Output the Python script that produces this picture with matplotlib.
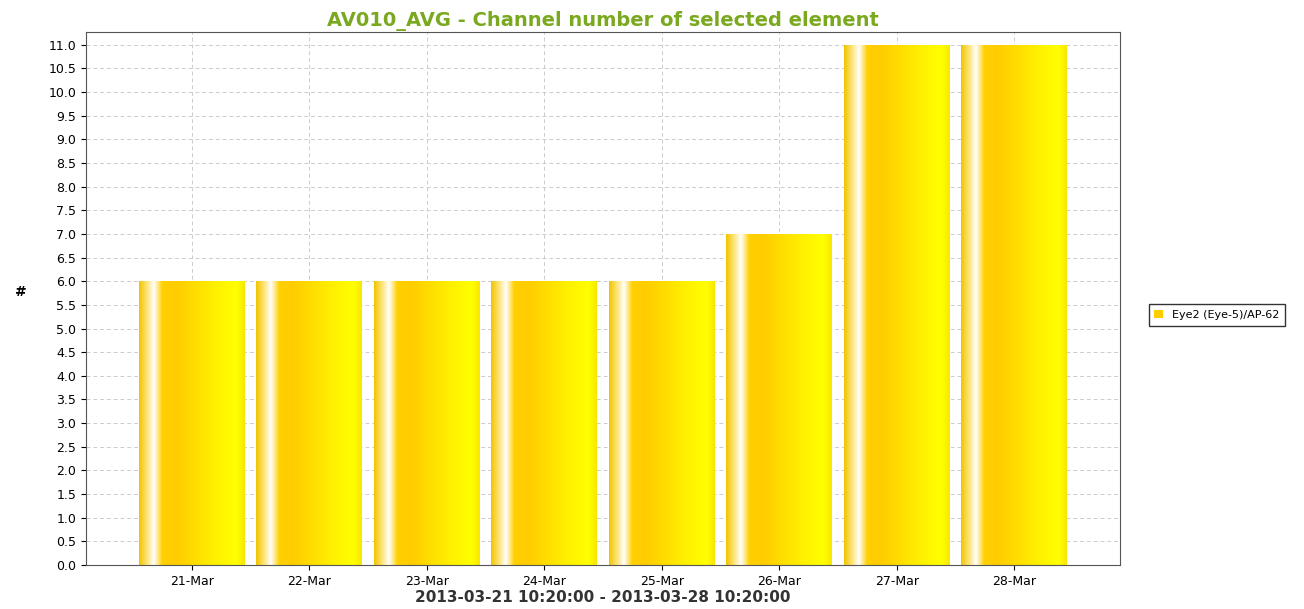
import matplotlib
matplotlib.use("Agg")
import matplotlib.pyplot as plt
import numpy as np
from matplotlib.colors import LinearSegmentedColormap
from matplotlib.patches import Rectangle

categories = ["21-Mar", "22-Mar", "23-Mar", "24-Mar", "25-Mar", "26-Mar", "27-Mar", "28-Mar"]
values = [6, 6, 6, 6, 6, 7, 11, 11]
series_name = "Eye2 (Eye-5)/AP-62"

fig = plt.figure(figsize=(13.04, 6.09), dpi=100)
ax = fig.add_axes([86/1304, 1-565/609, (1120-86)/1304, (565-32)/609])

cmap = LinearSegmentedColormap.from_list("g", [
    (0.0, "#f2c400"), (0.08, "#ffe680"), (0.14, "#ffffff"), (0.22, "#ffd000"),
    (0.35, "#ffcc00"), (0.7, "#ffee00"), (0.92, "#ffff00"), (1.0, "#f8e800")])
grad = np.linspace(0, 1, 256).reshape(1, -1)
w = 0.9
xs = np.arange(len(categories))
for x, v in zip(xs, values):
    im = ax.imshow(grad, cmap=cmap, aspect="auto",
                   extent=[x - w/2, x + w/2, 0, v], zorder=2)
    r = Rectangle((x - w/2, 0), w, v, transform=ax.transData, fill=False, lw=0)
    ax.add_patch(r)
    im.set_clip_path(r)

ax.set_xlim(-0.9, len(categories) - 0.1)
ax.set_ylim(0, 11.27)
ax.set_yticks(np.arange(0, 11.01, 0.5))
ax.set_yticklabels([f"{t:.1f}" for t in np.arange(0, 11.01, 0.5)], fontsize=9)
ax.set_xticks(xs)
ax.set_xticklabels(categories, fontsize=9)
ax.grid(True, color="#cccccc", linestyle=(0, (4, 3)), lw=0.7, zorder=0)
ax.set_axisbelow(True)
for s in ax.spines.values():
    s.set_color("#555555")
ax.set_ylabel("#", fontsize=10, fontweight="bold", rotation=0, labelpad=20)
ax.set_xlabel("2013-03-21 10:20:00 - 2013-03-28 10:20:00", fontsize=11,
              fontweight="bold", color="#333333", labelpad=2)
ax.set_title("AV010_AVG - Channel number of selected element", fontsize=14,
             fontweight="bold", color="#7aa81e", pad=4)
ax.bar([0], [0], color="#ffcc00", label=series_name)
fig.legend(loc="center left", bbox_to_anchor=(1143/1304, 1-315/609), fontsize=8,
           fancybox=False, edgecolor="black", handlelength=0.8, handleheight=0.8,
           borderpad=0.5)
fig.savefig("out.png", dpi=100)
